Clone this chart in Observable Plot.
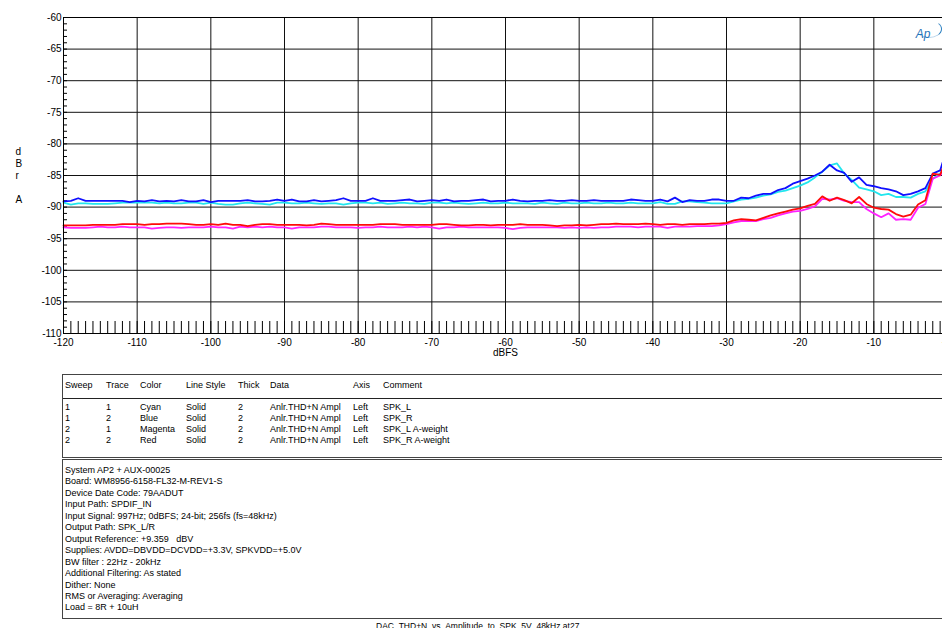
<!DOCTYPE html>
<html>
<head>
<meta charset="utf-8">
<script src="https://cdn.jsdelivr.net/npm/d3@7"></script>
<script src="https://cdn.jsdelivr.net/npm/@observablehq/plot@0.6"></script>
<style>
  html, body { margin: 0; padding: 0; background: #fff; }
  #page { position: relative; width: 942px; height: 628px; overflow: hidden; background: #fff;
          font-family: "Liberation Sans", Arial, sans-serif; color: #000; }
  #chart { position: absolute; left: 0; top: 0; width: 960px; }
  #chart svg { max-width: none !important; }
  .box { position: absolute; left: 62px; width: 920px; border: 1.5px solid #444; border-right: none; box-sizing: border-box; }
  .cell { position: absolute; font-size: 9px; line-height: 11px; white-space: pre; }
  #info { font-size: 9px; line-height: 11.45px; padding: 5px 0 0 2px; white-space: pre; }
  #caption { position: absolute; left: 376px; top: 621px; font-size: 8.5px; line-height: 10px; white-space: pre; }
  #swoosh { position: absolute; left: 916px; top: 20px; width: 24px; height: 16px;
            border: 1.4px solid transparent; border-right-color: #2a7fc0; border-bottom-color: rgba(42,127,192,0.35);
            border-radius: 50%; }
</style>
</head>
<body>
<div id="page">
  <div id="chart"></div>
  <div id="swoosh"></div>
  <div id="legend" class="box" style="top:374px;height:84px;"></div>
  <div id="info" class="box" style="top:459px;height:160px;"></div>
  <div id="caption"></div>
</div>
<script>
// ---------------- DATA ----------------
const dbfs = d3.range(-120, 1, 1); // sweep steps, dBFS
const xTicks = [-120, -110, -100, -90, -80, -70, -60, -50, -40, -30, -20, -10, 0];
const xTickLabels = ["-120", "-110", "-100", "-90", "-80", "-70", "-60", "-50", "-40", "-30", "-20", "-10", "+0"];
const yTicks = [-60, -65, -70, -75, -80, -85, -90, -95, -100, -105, -110];
const yTickLabels = ["-60", "-65", "-70", "-75", "-80", "-85", "-90", "-95", "-100", "-105", "-110"];

const cyan = [
 -89.3, -89.6, -89.4, -89.4, -89.5, -89.5, -89.5, -89.4, -89.3, -89.3,
 -89.3, -89.3, -89.3, -89.4, -89.3, -89.4, -89.4, -89.3, -89.3, -89.5,
 -89.3, -89.5, -89.6, -89.6, -89.4, -89.3, -89.4, -89.5, -89.6, -89.3,
 -89.3, -89.4, -89.4, -89.3, -89.4, -89.5, -89.4, -89.4, -89.6, -89.4,
 -89.3, -89.3, -89.4, -89.3, -89.5, -89.4, -89.3, -89.4, -89.4, -89.5,
 -89.3, -89.3, -89.4, -89.3, -89.4, -89.5, -89.4, -89.3, -89.4, -89.4,
 -89.3, -89.4, -89.4, -89.4, -89.5, -89.3, -89.4, -89.5, -89.3, -89.4,
 -89.4, -89.3, -89.4, -89.4, -89.3, -89.4, -89.4, -89.3, -89.4, -89.4,
 -89.4, -89.2, -89.5, -89.5, -89.1, -89.1, -89.2, -89.3, -89.4, -89.4, -89.4,
 -89.1, -88.8, -88.7, -88.5, -88.2, -88.0, -87.6, -87.4, -87.0, -86.6,
 -86.1, -85.3, -84.4, -83.4, -83.1, -84.7, -85.7, -86.9, -87.2, -87.5,
 -88.1, -87.9, -88.4, -88.4, -88.5, -87.9, -87.5, -85.5, -84.7, -82.5
];
const blue = [
 -89.1, -89.0, -88.6, -89.0, -89.0, -89.0, -89.0, -89.0, -89.0, -89.2,
 -89.0, -89.1, -88.9, -89.1, -89.0, -89.1, -88.9, -89.1, -89.1, -88.9,
 -89.2, -89.0, -89.0, -89.0, -89.0, -88.9, -89.1, -89.1, -89.0, -88.8,
 -89.0, -88.8, -89.1, -89.1, -88.9, -89.1, -89.0, -88.9, -88.6, -89.0,
 -89.0, -89.0, -88.6, -89.0, -89.0, -89.0, -88.9, -88.8, -89.1, -89.0,
 -88.9, -89.0, -88.8, -89.1, -89.0, -89.0, -88.9, -88.8, -89.1, -89.0,
 -89.0, -88.8, -89.0, -89.1, -89.0, -89.0, -88.9, -89.0, -89.0, -88.9,
 -89.0, -89.0, -88.9, -89.0, -89.0, -89.0, -89.0, -88.8, -88.9, -89.0,
 -89.0, -88.8, -89.1, -88.5, -89.2, -88.9, -89.0, -89.0, -88.8, -88.8, -89.0,
 -89.0, -88.5, -88.6, -88.2, -87.9, -87.9, -87.3, -87.0, -86.3, -85.9,
 -85.5, -85.0, -84.4, -83.3, -84.2, -84.6, -86.0, -85.3, -86.5, -86.7,
 -87.0, -87.2, -87.5, -88.1, -87.9, -87.5, -87.0, -84.7, -84.2, -80.5
];
const magenta = [
 -93.2, -93.3, -93.3, -93.3, -93.2, -93.1, -93.2, -93.2, -93.1, -93.2,
 -93.2, -93.2, -93.4, -93.3, -93.2, -93.2, -93.3, -93.2, -93.2, -93.2,
 -93.1, -93.2, -93.2, -93.4, -93.1, -93.2, -93.1, -93.2, -93.1, -93.2,
 -93.2, -93.4, -93.2, -93.2, -93.2, -93.1, -93.1, -93.2, -93.2, -93.2,
 -93.3, -93.2, -93.2, -93.1, -93.2, -93.2, -93.2, -93.1, -93.2, -93.1,
 -93.2, -93.4, -93.2, -93.2, -93.1, -93.2, -93.2, -93.2, -93.2, -93.2,
 -93.3, -93.5, -93.3, -93.2, -93.2, -93.2, -93.2, -93.2, -93.3, -93.2,
 -93.3, -93.2, -93.3, -93.2, -93.2, -93.1, -93.1, -93.1, -93.2, -93.1,
 -93.1, -93.1, -93.3, -93.1, -93.1, -93.1, -93.0, -93.0, -93.0, -92.9, -92.7,
 -92.4, -92.2, -92.2, -92.2, -91.9, -91.7, -91.3, -91.0, -90.7, -90.6,
 -90.3, -89.9, -88.7, -88.8, -88.6, -89.0, -89.2, -89.2, -90.3, -91.0,
 -91.6, -91.0, -92.0, -91.9, -92.0, -90.1, -89.5, -85.5, -85.0, -83.5
];
const red = [
 -92.9, -92.9, -92.9, -92.9, -92.8, -92.8, -92.8, -92.8, -92.7, -92.7,
 -92.7, -92.8, -92.7, -92.7, -92.6, -92.6, -92.6, -92.7, -92.8, -92.8,
 -92.7, -92.8, -92.6, -92.8, -92.8, -93.0, -92.8, -92.7, -92.7, -92.8,
 -92.8, -92.8, -92.8, -92.9, -92.8, -92.6, -92.7, -92.8, -92.8, -92.8,
 -92.8, -92.8, -92.8, -92.7, -92.7, -92.7, -92.8, -92.8, -92.8, -92.8,
 -92.8, -92.7, -92.7, -92.8, -92.9, -92.9, -92.8, -92.8, -92.9, -92.8,
 -92.8, -92.8, -92.7, -92.8, -92.8, -92.8, -92.9, -93.0, -92.9, -92.9,
 -92.8, -92.9, -92.8, -92.7, -92.7, -92.6, -92.7, -92.7, -92.7, -92.6,
 -92.7, -92.8, -92.7, -92.7, -92.8, -92.7, -92.7, -92.7, -92.6, -92.6, -92.5,
 -92.1, -91.9, -92.0, -92.1, -91.7, -91.3, -91.0, -90.7, -90.4, -90.2,
 -89.8, -89.5, -88.3, -89.0, -88.5, -88.9, -89.4, -88.4, -89.5, -90.1,
 -90.3, -90.4, -91.1, -91.5, -91.2, -89.6, -88.9, -84.7, -84.9, -82.0
];

// legend table
const legendHeader = ["Sweep", "Trace", "Color", "Line Style", "Thick", "Data", "Axis", "Comment"];
const sweeps = ["1", "1", "2", "2"];
const traces = ["1", "2", "1", "2"];
const colorNames = ["Cyan", "Blue", "Magenta", "Red"];
const lineStyles = ["Solid", "Solid", "Solid", "Solid"];
const thicks = ["2", "2", "2", "2"];
const dataNames = ["Anlr.THD+N Ampl", "Anlr.THD+N Ampl", "Anlr.THD+N Ampl", "Anlr.THD+N Ampl"];
const axesNames = ["Left", "Left", "Left", "Left"];
const comments = ["SPK_L", "SPK_R", "SPK_L A-weight", "SPK_R A-weight"];

const infoLines = [
  "System AP2 + AUX-00025",
  "Board: WM8956-6158-FL32-M-REV1-S",
  "Device Date Code: 79AADUT",
  "Input Path: SPDIF_IN",
  "Input Signal: 997Hz; 0dBFS; 24-bit; 256fs (fs=48kHz)",
  "Output Path: SPK_L/R",
  "Output Reference: +9.359   dBV",
  "Supplies: AVDD=DBVDD=DCVDD=+3.3V, SPKVDD=+5.0V",
  "BW filter : 22Hz - 20kHz",
  "Additional Filtering: As stated",
  "Dither: None",
  "RMS or Averaging: Averaging",
  "Load = 8R + 10uH"
];
const captionText = "DAC_THD+N_vs_Amplitude_to_SPK_5V_48kHz.at27";

// ---------------- CHART ----------------
const series = [
  {name: "Cyan", values: cyan, color: "#22e6ee"},
  {name: "Blue", values: blue, color: "#1010ff"},
  {name: "Magenta", values: magenta, color: "#ff22ff"},
  {name: "Red", values: red, color: "#ff0a0a"}
];
const minorX = d3.range(-120, 1, 1);
const minorY = d3.range(-110, -59, 1);

const W = 960, H = 372;
const mL = 63, mT = 17, mR = 13, mB = 39;
const frameW = W - mL - mR, frameH = H - mT - mB;

const chart = Plot.plot({
  width: W,
  height: H,
  marginLeft: mL, marginTop: mT, marginRight: mR, marginBottom: mB,
  style: {fontFamily: "'Liberation Sans', Arial, sans-serif", fontSize: "10px", background: "white", overflow: "visible", maxWidth: "none"},
  x: {domain: [-120, 0]},
  y: {domain: [-110, -60]},
  marks: [
    Plot.ruleX(xTicks, {stroke: "#111", strokeWidth: 1}),
    Plot.ruleY(yTicks, {stroke: "#111", strokeWidth: 1}),
    Plot.tickX(minorX, {x: d => d, stroke: "#000", strokeWidth: 1, insetTop: frameH - 12}),
    Plot.tickY(minorY, {y: d => d, stroke: "#000", strokeWidth: 1, insetRight: frameW - 4}),
    ...series.map(s => Plot.line(s.values, {
      x: (d, i) => dbfs[i], y: d => d, stroke: s.color, strokeWidth: 1.8, strokeLinejoin: "round"
    })),
    Plot.frame({stroke: "#000", strokeWidth: 1}),
    Plot.axisX(xTicks, {tickSize: 0, tickPadding: 5, tickFormat: (d, i) => xTickLabels[i], label: null, fill: "#000"}),
    Plot.axisY(yTicks, {tickSize: 0, tickPadding: 2, tickFormat: (d, i) => yTickLabels[i], label: null, fill: "#000"}),
    Plot.text(["dBFS"], {frameAnchor: "bottom", dy: 22, fontSize: 10, fill: "#000"}),
    Plot.text(["d\nB\nr\n\nA"], {frameAnchor: "left", dx: -48, lineHeight: 1.2, fontSize: 10, fill: "#000"}),
    Plot.text(["Ap"], {frameAnchor: "top-right", dx: -17, dy: 12, fontSize: 12, fontStyle: "italic", fill: "#1f74b8"})
  ]
});
document.getElementById("chart").appendChild(chart);

// ---------------- LEGEND TABLE ----------------
const legend = document.getElementById("legend");
const colX = [2, 43, 77, 123, 175, 207, 290, 320]; // relative to box left (62)
const colsData = [sweeps, traces, colorNames, lineStyles, thicks, dataNames, axesNames, comments];
function cell(parent, txt, x, y) {
  const d = document.createElement("div");
  d.className = "cell";
  d.style.left = x + "px";
  d.style.top = y + "px";
  d.textContent = txt;
  parent.appendChild(d);
}
legendHeader.forEach((h, j) => cell(legend, h, colX[j], 5));
const sep = document.createElement("div");
sep.style.cssText = "position:absolute;left:0;right:0;top:22.5px;height:0;border-top:1px solid #222;";
legend.appendChild(sep);
for (let i = 0; i < 4; i++) {
  colsData.forEach((col, j) => cell(legend, col[i], colX[j], 27 + i * 10.9));
}

// ---------------- INFO BOX ----------------
document.getElementById("info").textContent = infoLines.join("\n");
document.getElementById("caption").textContent = captionText;
</script>
</body>
</html>
